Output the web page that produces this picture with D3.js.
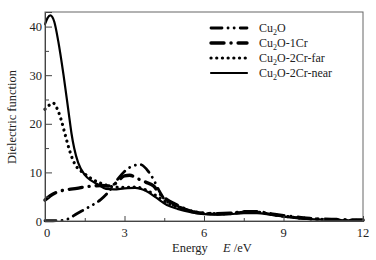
<!DOCTYPE html>
<html><head><meta charset="utf-8">
<script src="https://cdn.jsdelivr.net/npm/d3@7"></script>
<style>body{margin:0;background:#fff}svg{display:block}text{font-family:"Liberation Serif","Times New Roman",serif;fill:#222}</style>
</head><body><svg id="c" width="376" height="260"></svg>
<script>
const seriesNames = ["Cu2O", "Cu2O-1Cr", "Cu2O-2Cr-far", "Cu2O-2Cr-near"];
const xTicks = [0, 3, 6, 9, 12];
const yTicks = [0, 10, 20, 30, 40];
const cu2oE = [0,0.3,0.6,0.9,1.2,1.5,1.8,2.1,2.4,2.7,3.0,3.3,3.6,3.9,4.1,4.3,4.5,4.8,5.1,5.5,6.0,6.5,7,7.5,8,8.5,9,9.5,10,11,12];
const cu2oV = [0.05,0.05,0.1,0.5,1.5,2.4,3.3,4.4,6.0,8.3,10.2,11.3,11.6,10.2,8.5,6.3,4.5,3.4,2.8,2.1,1.5,1.4,1.5,1.8,1.8,1.4,1.0,0.7,0.4,0.2,0.1];
const cr1E = [0,0.2,0.4,0.6,0.9,1.2,1.5,1.8,2.1,2.4,2.6,2.8,3.0,3.2,3.5,3.8,4.1,4.3,4.6,4.9,5.2,5.5,6.0,6.5,7,7.5,8,8.5,9,9.5,10,11,12];
const cr1V = [4.3,5.2,5.8,6.2,6.5,6.7,7.0,7.2,7.3,7.2,7.5,8.5,9.3,9.4,8.7,8.0,7.2,5.8,4.4,3.5,2.7,2.0,1.6,1.5,1.6,1.9,1.9,1.5,1.1,0.8,0.5,0.3,0.2];
const farE = [0,0.15,0.3,0.45,0.6,0.75,0.9,1.05,1.2,1.45,1.7,2.0,2.3,2.6,3.0,3.4,3.8,4.2,4.6,5.0,5.5,6.0,6.5,7,7.5,8,8.5,9,9.5,10,11,12];
const farV = [23,23.8,24.3,23.2,21,18,15,12.6,11.1,9.9,8.9,8.0,7.4,7.0,6.9,7.0,6.4,5.2,3.8,2.9,2.1,1.6,1.5,1.6,1.8,1.8,1.4,1.0,0.7,0.5,0.2,0.1];
const nearE = [0,0.1,0.2,0.35,0.5,0.7,0.9,1.0,1.1,1.25,1.5,1.75,2.0,2.3,2.6,3.0,3.4,3.8,4.2,4.6,5.0,5.5,6.0,6.5,7,7.5,8,8.5,9,9.5,10,11,12];
const nearV = [40.5,41.8,42.3,41,37,30,22,18,15,12,9.5,8.3,7.5,6.6,6.5,6.7,6.8,6.2,4.8,3.3,2.5,1.8,1.4,1.3,1.4,1.6,1.6,1.3,0.9,0.6,0.4,0.2,0.1];

const svg = d3.select("#c");
const x = d3.scaleLinear().domain([0, 12]).range([45, 363]);
const y = d3.scaleLinear().domain([0, 43]).range([221, 12]);

const styles = [
  {w:2.8, dash:"11,6,0.1,6,0.1,6"},
  {w:3.4, dash:"13,7,0.1,7"},
  {w:3.2, dash:"0.1,5.6"},
  {w:2.2, dash:null}
];
const data = [[cu2oE,cu2oV],[cr1E,cr1V],[farE,farV],[nearE,nearV]].map(([e,v]) => e.map((d,i)=>[d,v[i]]));

const line = d3.line().x(d=>x(d[0])).y(d=>y(d[1])).curve(d3.curveMonotoneX);
data.forEach((pts,i)=>{
  svg.append("path").attr("d", line(pts)).attr("fill","none").attr("stroke","#000")
    .attr("stroke-width", styles[i].w).attr("stroke-linecap","round")
    .attr("stroke-dasharray", styles[i].dash);
});

// frame
svg.append("rect").attr("x",45).attr("y",12).attr("width",318).attr("height",209)
  .attr("fill","none").attr("stroke","#666").attr("stroke-width",1);

// y axis
const ya = d3.axisRight(y).tickValues(yTicks).tickSize(7).tickFormat("");
svg.append("g").attr("transform","translate(45,0)").call(ya).call(g=>{g.select(".domain").attr("stroke","#444");g.selectAll("line").attr("stroke","#444");});
svg.append("g").attr("transform","translate(45,0)").call(d3.axisRight(y).tickValues([5,15,25,35]).tickSize(4).tickFormat(""))
  .call(g=>{g.select(".domain").remove();g.selectAll("line").attr("stroke","#444");});
svg.append("g").selectAll("text").data(yTicks).join("text")
  .attr("x",42).attr("y",d=>y(d)+4.5).attr("text-anchor","end").attr("font-size",12.5).text(d=>d);

// x axis
svg.append("g").attr("transform","translate(0,221)").call(d3.axisTop(x).tickValues(xTicks).tickSize(5).tickFormat(""))
  .call(g=>{g.select(".domain").attr("stroke","#444");g.selectAll("line").attr("stroke","#444");});
svg.append("g").attr("transform","translate(0,221)").call(d3.axisTop(x).tickValues([1.5,4.5,7.5,10.5]).tickSize(3).tickFormat(""))
  .call(g=>{g.select(".domain").remove();g.selectAll("line").attr("stroke","#444");});
svg.append("g").selectAll("text").data(xTicks).join("text")
  .attr("x",d=>x(d)+(d===0?2:0)).attr("y",237).attr("text-anchor","middle").attr("font-size",12.5).text(d=>d);

// axis titles
const xt = svg.append("text").attr("x",172).attr("y",252).attr("font-size",12.5);
xt.append("tspan").text("Energy");
xt.append("tspan").attr("x",223).attr("font-style","italic").text("E");
xt.append("tspan").text(" /eV");
svg.append("text").attr("transform","translate(16,117) rotate(-90)").attr("text-anchor","middle")
  .attr("font-size",12.5).text("Dielectric function");

// legend
const ly = [28,43,58,73];
seriesNames.forEach((n,i)=>{
  svg.append("line").attr("x1",211).attr("x2",247).attr("y1",ly[i]).attr("y2",ly[i])
    .attr("stroke","#000").attr("stroke-width",styles[i].w).attr("stroke-linecap","round")
    .attr("stroke-dasharray",styles[i].dash);
  const t = svg.append("text").attr("x",259).attr("y",ly[i]+4).attr("font-size",12);
  t.append("tspan").text("Cu");
  t.append("tspan").attr("font-size",8).attr("dy",3).text("2");
  t.append("tspan").attr("dy",-3).text(n.slice(3));
});
</script></body></html>
